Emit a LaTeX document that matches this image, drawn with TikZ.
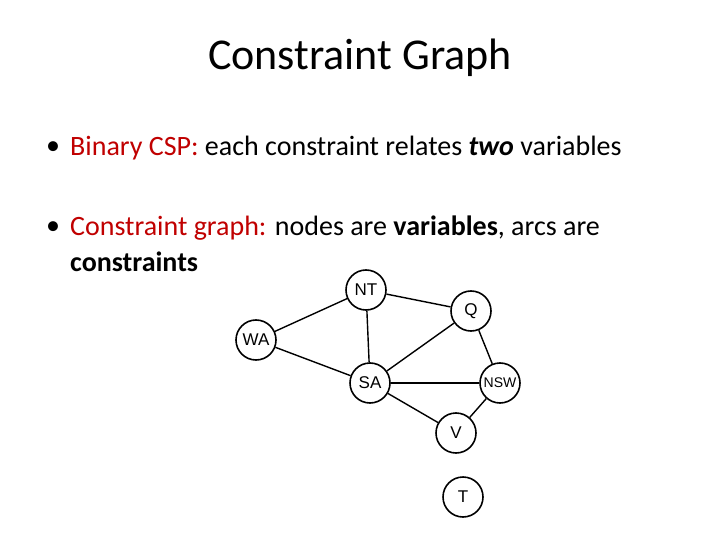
\documentclass[tikz,border=0pt]{standalone}
\usepackage{fontspec}
\setmainfont{Carlito}
\newfontfamily\arial{Liberation Sans}
\definecolor{cspred}{RGB}{192,0,0}
\begin{document}
\begin{tikzpicture}[x=1pt,y=-1pt]
    \tikzset{var/.style={draw, circle, line width=1.6pt, minimum size=40pt, inner sep=0pt, font=\arial\fontsize{17}{17}\selectfont},
             arc/.style={line width=1.4pt},
             body/.style={anchor=west, inner sep=0pt, font=\fontsize{28}{30}\selectfont}}
    \useasboundingbox (0,0) rectangle (720,540);
    \node (title) at (360,58) {\fontsize{44}{46}\selectfont Constraint Graph};
    \node[body] (d1) at (46,148) {\textbullet};
    \node[body] (b1) at (70,148) {\textcolor{cspred}{Binary CSP:} each constraint relates \textbf{\textit{two}} variables};
    \node[body] (d2) at (46,228) {\textbullet};
    \node[body] (b2) at (70,228) {\textcolor{cspred}{Constraint graph:} nodes are \textbf{variables}, arcs are};
    \node[body] (b3) at (70,262) {\textbf{constraints}};
    \node[var] (NT) at (366,290) {NT};
    \node[var] (Q) at (471,311) {Q};
    \node[var] (WA) at (256,340) {WA};
    \node[var] (SA) at (370,383) {SA};
    \node[var] (NSW) at (500,383) {\fontsize{14}{14}\selectfont NSW};
    \node[var] (V) at (456,433) {V};
    \node[var] (T) at (463,497) {T};
    \draw[arc] (NT) -- (WA);
    \draw[arc] (NT) -- (Q);
    \draw[arc] (NT) -- (SA);
    \draw[arc] (WA) -- (SA);
    \draw[arc] (Q) -- (SA);
    \draw[arc] (Q) -- (NSW);
    \draw[arc] (SA) -- (NSW);
    \draw[arc] (SA) -- (V);
    \draw[arc] (NSW) -- (V);
\end{tikzpicture}
\end{document}
